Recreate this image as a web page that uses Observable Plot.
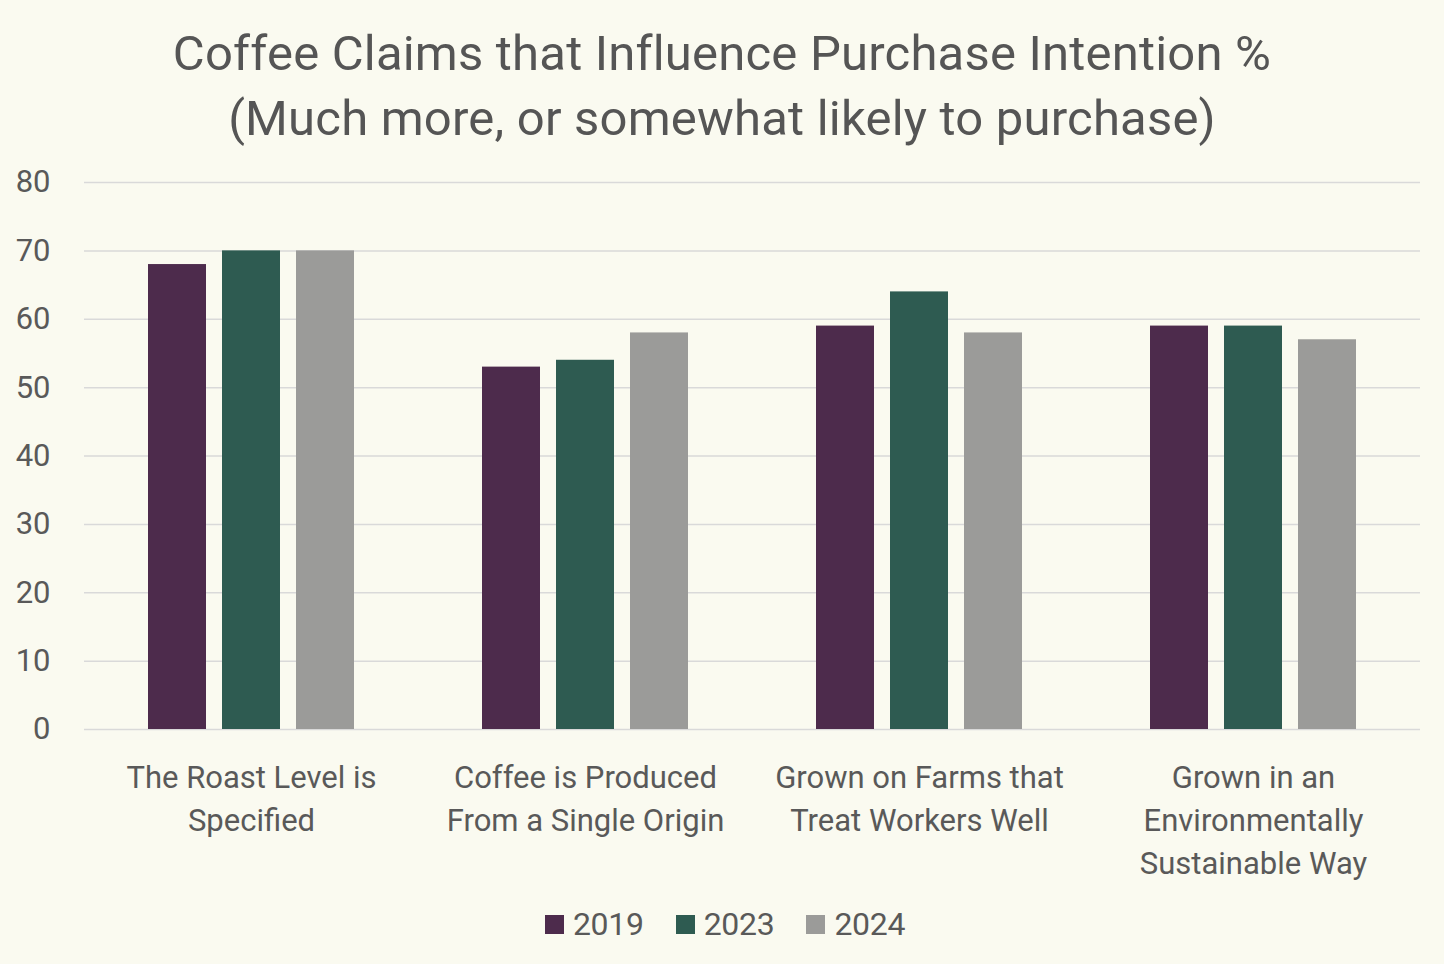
<!DOCTYPE html>
<html>
<head>
<meta charset="utf-8">
<script src="https://cdn.jsdelivr.net/npm/d3@7"></script>
<script src="https://cdn.jsdelivr.net/npm/@observablehq/plot@0.6"></script>
<style>
  html, body { margin: 0; padding: 0; background: #fafaf0; }
  body { width: 1444px; height: 964px; overflow: hidden; font-family: Roboto, "Noto Sans", sans-serif; color: #595959; }
  #title { text-align: center; font-size: 49px; line-height: 65px; padding-top: 21px; height: 130px; letter-spacing: 0.2px; color: #555; }
  #chart { height: 740px; }
  #legend { display: flex; justify-content: center; align-items: center; gap: 32px; font-size: 32px; margin-top: 13px; height: 40px; letter-spacing: -0.3px; padding-left: 6px; }
  .item { display: flex; align-items: center; gap: 9px; }
  .sw { width: 19px; height: 19px; display: inline-block; }
</style>
</head>
<body>
<div id="title">Coffee Claims that Influence Purchase Intention %<br>(Much more, or somewhat likely to purchase)</div>
<div id="chart"></div>
<div id="legend"></div>
<script>
const categories = [
  "The Roast Level is\nSpecified",
  "Coffee is Produced\nFrom a Single Origin",
  "Grown on Farms that\nTreat Workers Well",
  "Grown in an\nEnvironmentally\nSustainable Way"
];
const years = ["2019", "2023", "2024"];
const values2019 = [68, 53, 59, 59];
const values2023 = [70, 54, 64, 59];
const values2024 = [70, 58, 58, 57];
const colors = ["#4d2b4c", "#2e5b51", "#9b9b99"];
const yTicks = [0, 10, 20, 30, 40, 50, 60, 70, 80];

const series = [values2019, values2023, values2024];
const data = [];
categories.forEach((c, i) => years.forEach((y, j) => data.push({category: c, year: y, value: series[j][i]})));

const chart = Plot.plot({
  width: 1444,
  height: 740,
  marginLeft: 84,
  marginRight: 24,
  marginTop: 31,
  marginBottom: 162,
  style: { background: "transparent", fontFamily: "Roboto, 'Noto Sans', sans-serif", color: "#595959", overflow: "visible" },
  fx: { domain: categories, padding: 0, label: null },
  x: { domain: years, paddingInner: 0.216, paddingOuter: 0.85, axis: null },
  y: { domain: [0, 80], label: null },
  color: { domain: years, range: colors },
  marks: [
    Plot.gridY(yTicks, { stroke: "#d9d9d9", strokeOpacity: 1, strokeWidth: 1.5 }),
    Plot.axisY({ ticks: yTicks, tickSize: 0, tickPadding: 34, fontSize: 31, label: null, fill: "#595959" }),
    Plot.axisFx({ anchor: "bottom", tickSize: 0, tickPadding: 28, fontSize: 31, lineHeight: 1.39, label: null, fill: "#595959" }),
    Plot.barY(data, { fx: "category", x: "year", y: "value", fill: "year" })
  ]
});
document.getElementById("chart").appendChild(chart);

const legend = document.getElementById("legend");
years.forEach((y, i) => {
  const item = document.createElement("div");
  item.className = "item";
  const sw = document.createElement("span");
  sw.className = "sw";
  sw.style.background = colors[i];
  const t = document.createElement("span");
  t.textContent = y;
  item.appendChild(sw);
  item.appendChild(t);
  legend.appendChild(item);
});
</script>
</body>
</html>
